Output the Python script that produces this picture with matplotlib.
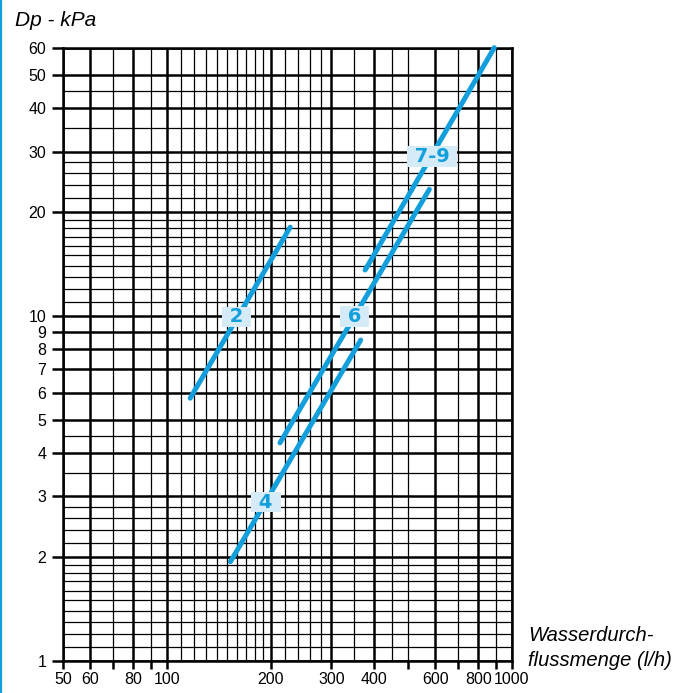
import numpy as np
import matplotlib.pyplot as plt
import matplotlib as mpl
from matplotlib.lines import Line2D

# curves (flow l/h, pressure drop kPa)
flow_2 = [117, 228]
dp_2 = [5.78, 18.1]
flow_4 = [153, 365]
dp_4 = [1.94, 8.52]
flow_6 = [213, 577]
dp_6 = [4.29, 23.3]
flow_79 = [376, 890]
dp_79 = [13.6, 60.0]

# curve tags: text, flow, dp
tags = ["2", "4", "6", "7-9"]
tag_flow = [159, 194, 350, 587]
tag_dp = [9.94, 2.89, 9.95, 29.0]

# axis ticks
x_ticks = [50, 60, 80, 100, 200, 300, 400, 600, 800, 1000]
x_ticks_minor = [70, 90, 500, 700, 900]
y_ticks = [1, 2, 3, 4, 5, 6, 7, 8, 9, 10, 20, 30, 40, 50, 60]

# paper grid
x_grid_thin = [70, 90, 110, 120, 130, 140, 150, 160, 170, 180, 190,
               220, 240, 260, 280, 350, 450, 500, 700, 900]
y_grid_thin = [1.1, 1.2, 1.3, 1.4, 1.5, 1.6, 1.7, 1.8, 1.9,
               2.2, 2.4, 2.6, 2.8, 3.5, 4.5,
               11, 12, 13, 14, 15, 16, 17, 18, 19,
               22, 24, 26, 28, 35, 45]

blue = "#129fdc"
tag_bg = "#d6ebf8"

plt.rcParams["font.family"] = ["Liberation Sans", "DejaVu Sans"]

fig = plt.figure(figsize=(6.97, 6.93), dpi=100)
ax = fig.add_axes([0.0901, 0.0462, 0.6441, 0.885])

ax.set_xscale("log")
ax.set_yscale("log")
ax.set_xlim(50, 1000)
ax.set_ylim(1, 60)

# grid
for v in x_ticks:
    ax.axvline(v, color="black", lw=1.8, zorder=1)
for v in x_grid_thin:
    ax.axvline(v, color="black", lw=0.9, zorder=1)
for v in y_ticks:
    ax.axhline(v, color="black", lw=1.8, zorder=1)
for v in y_grid_thin:
    ax.axhline(v, color="black", lw=0.9, zorder=1)

# curves
for xs, ys in [(flow_2, dp_2), (flow_4, dp_4), (flow_6, dp_6), (flow_79, dp_79)]:
    ax.plot(xs, ys, color=blue, lw=3.6, solid_capstyle="round",
            zorder=3, clip_on=False)

for t, xv, yv in zip(tags, tag_flow, tag_dp):
    ax.text(xv, yv, " " + t + " ", ha="center", va="center", fontsize=14,
            fontweight="bold", family="DejaVu Sans", color=blue, zorder=4,
            bbox=dict(boxstyle="square,pad=0.05", fc=tag_bg, ec="none"))

# ticks
ax.xaxis.set_major_locator(mpl.ticker.FixedLocator(x_ticks))
ax.xaxis.set_major_formatter(mpl.ticker.FixedFormatter([str(v) for v in x_ticks]))
ax.xaxis.set_minor_locator(mpl.ticker.FixedLocator(x_ticks_minor))
ax.xaxis.set_minor_formatter(mpl.ticker.NullFormatter())
ax.yaxis.set_major_locator(mpl.ticker.FixedLocator(y_ticks))
ax.yaxis.set_major_formatter(mpl.ticker.FixedFormatter([str(v) for v in y_ticks]))
ax.yaxis.set_minor_locator(mpl.ticker.NullLocator())

ax.tick_params(axis="x", which="both", direction="out", length=6, width=1.8,
               pad=2, labelsize=11.5)
ax.tick_params(axis="y", which="both", direction="out", length=8, width=1.8,
               pad=4, labelsize=11.5)

for s in ax.spines.values():
    s.set_linewidth(1.8)

# titles
fig.text(15 / 697, 1 - 26 / 693, "Dp - kPa", ha="left", va="baseline",
         fontsize=15, style="italic")
fig.text(528 / 697, 1 - 641 / 693, "Wasserdurch-", ha="left", va="baseline",
         fontsize=14.5, style="italic")
fig.text(528 / 697, 1 - 666 / 693, "flussmenge (l/h)", ha="left", va="baseline",
         fontsize=14.5, style="italic")

# blue border on the left
fig.add_artist(Line2D([0.0015, 0.0015], [0, 1], transform=fig.transFigure,
                      color=blue, lw=1.6))

plt.savefig("out.png", dpi=100)
